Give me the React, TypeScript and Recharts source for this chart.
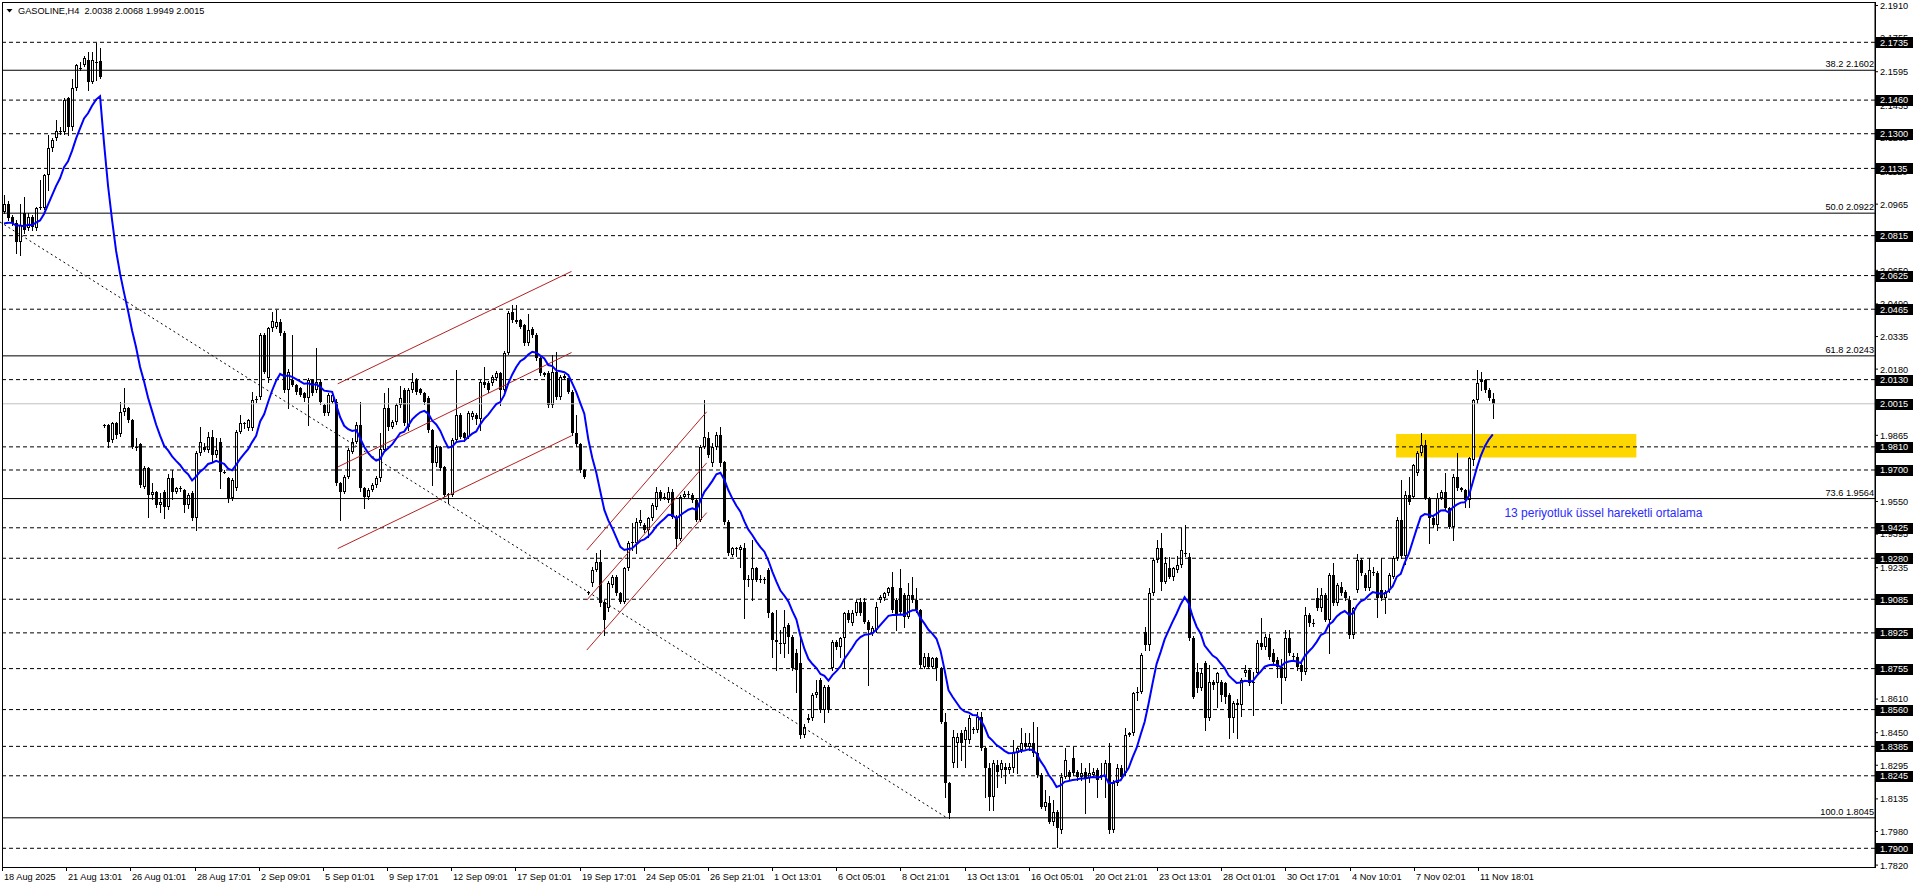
import {
  ComposedChart,
  Bar,
  Line,
  XAxis,
  YAxis,
  ReferenceLine,
  ReferenceArea,
} from 'recharts';

const symbolName = 'GASOLINE,H4';

// H4 candles, 18 Aug 2025 -> 11 Nov 2025
const opens = [
  2.0929, 2.0968, 2.0905, 2.0873, 2.0786, 2.0921, 2.0850, 2.0905, 2.0850, 2.0945,
  2.0945, 2.1103, 2.1230, 2.1278, 2.1309, 2.1309, 2.1468, 2.1333, 2.1516, 2.1611,
  2.1627, 2.1650, 2.1547, 2.1640, 2.1645, 1.9914, 1.9914, 1.9842, 1.9922, 1.9869,
  1.9977, 1.9993, 1.9938, 1.9811, 1.9822, 1.9621, 1.9708, 1.9581, 1.9594, 1.9533,
  1.9594, 1.9525, 1.9660, 1.9597, 1.9613, 1.9605, 1.9533, 1.9589, 1.9470, 1.9779,
  1.9811, 1.9795, 1.9858, 1.9771, 1.9835, 1.9692, 1.9660, 1.9565, 1.9613, 1.9882,
  1.9922, 1.9898, 1.9898, 2.0033, 2.0048, 2.0342, 2.0136, 2.0374, 2.0382, 2.0406,
  2.0350, 2.0080, 2.0128, 2.0104, 2.0088, 2.0064, 2.0041, 2.0128, 2.0080, 2.0120,
  2.0009, 1.9969, 2.0025, 2.0025, 1.9636, 1.9597, 1.9668, 1.9787, 1.9835, 1.9914,
  1.9613, 1.9573, 1.9605, 1.9628, 1.9660, 1.9795, 1.9993, 1.9906, 1.9929, 2.0009,
  2.0080, 1.9906, 2.0080, 2.0128, 2.0083, 2.0064, 2.0041, 1.9890, 1.9731, 1.9811,
  1.9715, 1.9581, 1.9581, 1.9842, 1.9961, 1.9874, 1.9858, 1.9953, 1.9961, 1.9945,
  2.0120, 2.0115, 2.0112, 2.0136, 2.0160, 2.0080, 2.0255, 2.0453, 2.0413, 2.0413,
  2.0389, 2.0302, 2.0369, 2.0342, 2.0231, 2.0160, 2.0160, 2.0009, 2.0167, 2.0048,
  2.0147, 2.0136, 2.0072, 1.9874, 1.9823, 1.9700, 1.9121, 1.9160, 1.9224, 1.9263,
  1.9073, 1.9041, 1.9152, 1.9192, 1.9113, 1.9073, 1.9232, 1.9359, 1.9351, 1.9446,
  1.9438, 1.9414, 1.9470, 1.9525, 1.9596, 1.9573, 1.9557, 1.9596, 1.9478, 1.9374,
  1.9573, 1.9581, 1.9581, 1.9557, 1.9462, 1.9811, 1.9850, 1.9731, 1.9811, 1.9866,
  1.9738, 1.9454, 1.9295, 1.9327, 1.9319, 1.9327, 1.9176, 1.9176, 1.9232, 1.9180,
  1.9176, 1.9224, 1.9018, 1.8883, 1.8875, 1.8870, 1.8962, 1.8907, 1.8827, 1.8780,
  1.8439, 1.8510, 1.8518, 1.8629, 1.8701, 1.8558, 1.8669, 1.8756, 1.8883, 1.8859,
  1.8899, 1.9018, 1.8970, 1.9018, 1.9073, 1.9073, 1.8978, 1.8923, 1.8938, 1.9081,
  1.9089, 1.9113, 1.9145, 1.9081, 1.9137, 1.9105, 1.9002, 1.9105, 1.9081, 1.9033,
  1.8764, 1.8812, 1.8764, 1.8804, 1.8756, 1.8502, 1.8209, 1.8304, 1.8399, 1.8447,
  1.8415, 1.8415, 1.8466, 1.8463, 1.8526, 1.8376, 1.8280, 1.8146, 1.8296, 1.8272,
  1.8288, 1.8272, 1.8280, 1.8352, 1.8368, 1.8399, 1.8383, 1.8399, 1.8352, 1.8249,
  1.8098, 1.8114, 1.8026, 1.8074, 1.7987, 1.8241, 1.8264, 1.8328, 1.8264, 1.8241,
  1.8264, 1.8233, 1.8249, 1.8272, 1.8241, 1.8241, 1.8304, 1.7987, 1.8209, 1.8280,
  1.8257, 1.8439, 1.8447, 1.8637, 1.8645, 1.8930, 1.8867, 1.9113, 1.9271, 1.9327,
  1.9169, 1.9232, 1.9192, 1.9224, 1.9248, 1.9303, 1.9287, 1.8900, 1.8740, 1.8661,
  1.8780, 1.8518, 1.8693, 1.8685, 1.8693, 1.8685, 1.8629, 1.8518, 1.8590, 1.8582,
  1.8732, 1.8748, 1.8693, 1.8732, 1.8875, 1.8859, 1.8900, 1.8827, 1.8796, 1.8764,
  1.8708, 1.8899, 1.8812, 1.8812, 1.8772, 1.8740, 1.9010, 1.8970, 1.9089, 1.9041,
  1.9105, 1.8986, 1.9200, 1.9065, 1.9145, 1.9121, 1.9081, 1.8915, 1.9129, 1.9271,
  1.9200, 1.9137, 1.9216, 1.9208, 1.9129, 1.9089, 1.9129, 1.9192, 1.9279, 1.9462,
  1.9290, 1.9581, 1.9573, 1.9684, 1.9779, 1.9819, 1.9565, 1.9470, 1.9438, 1.9565,
  1.9597, 1.9517, 1.9430, 1.9668, 1.9612, 1.9605, 1.9557, 1.9747, 2.0033, 2.0128,
  2.0128, 2.0080, 2.0038,
];

const highs = [
  2.1008, 2.0980, 2.0913, 2.0890, 2.0968, 2.1000, 2.0921, 2.0913, 2.0953, 2.1080,
  2.1110, 2.1294, 2.1280, 2.1365, 2.1330, 2.1470, 2.1475, 2.1560, 2.1630, 2.1640,
  2.1670, 2.1690, 2.1690, 2.1730, 2.1707, 1.9918, 1.9918, 1.9930, 1.9930, 2.0025,
  2.0088, 2.0000, 1.9945, 1.9850, 1.9830, 1.9720, 1.9715, 1.9640, 1.9600, 1.9590,
  1.9605, 1.9680, 1.9700, 1.9620, 1.9625, 1.9610, 1.9590, 1.9600, 1.9790, 1.9906,
  1.9830, 1.9880, 1.9890, 1.9850, 1.9850, 1.9700, 1.9668, 1.9660, 1.9890, 1.9962,
  1.9930, 1.9945, 2.0072, 2.0050, 2.0350, 2.0350, 2.0380, 2.0453, 2.0460, 2.0420,
  2.0360, 2.0180, 2.0342, 2.0110, 2.0095, 2.0070, 2.0140, 2.0135, 2.0279, 2.0130,
  2.0015, 2.0065, 2.0072, 2.0040, 1.9645, 1.9675, 1.9805, 1.9850, 1.9930, 2.0025,
  1.9620, 1.9612, 1.9640, 1.9670, 1.9874, 2.0064, 2.0088, 1.9940, 2.0020, 2.0100,
  2.0088, 2.0090, 2.0160, 2.0140, 2.0090, 2.0070, 2.0050, 1.9895, 1.9820, 1.9815,
  1.9720, 1.9590, 1.9850, 2.0175, 1.9970, 1.9880, 1.9980, 1.9980, 1.9970, 2.0130,
  2.0191, 2.0125, 2.0150, 2.0170, 2.0165, 2.0265, 2.0455, 2.0485, 2.0485, 2.0420,
  2.0395, 2.0440, 2.0380, 2.0350, 2.0240, 2.0165, 2.0170, 2.0247, 2.0263, 2.0150,
  2.0155, 2.0140, 2.0080, 1.9960, 1.9830, 1.9705, 1.9125, 1.9240, 1.9303, 1.9319,
  1.9080, 1.9170, 1.9200, 1.9200, 1.9120, 1.9240, 1.9360, 1.9446, 1.9470, 1.9509,
  1.9450, 1.9478, 1.9545, 1.9620, 1.9605, 1.9590, 1.9620, 1.9610, 1.9485, 1.9580,
  1.9600, 1.9600, 1.9590, 1.9565, 1.9820, 2.0033, 1.9880, 1.9830, 1.9880, 1.9905,
  1.9745, 1.9460, 1.9335, 1.9335, 1.9345, 1.9351, 1.9200, 1.9367, 1.9240, 1.9200,
  1.9190, 1.9232, 1.9025, 1.9033, 1.8938, 1.9033, 1.8970, 1.8915, 1.8850, 1.8907,
  1.8490, 1.8540, 1.8637, 1.8701, 1.8710, 1.8677, 1.8677, 1.8890, 1.8890, 1.8907,
  1.9025, 1.9033, 1.9033, 1.9081, 1.9089, 1.9089, 1.8986, 1.8960, 1.9073, 1.9105,
  1.9120, 1.9145, 1.9216, 1.9089, 1.9230, 1.9113, 1.9161, 1.9192, 1.9137, 1.9040,
  1.8827, 1.8827, 1.8812, 1.8812, 1.8764, 1.8542, 1.8217, 1.8463, 1.8447, 1.8463,
  1.8479, 1.8534, 1.8479, 1.8550, 1.8550, 1.8383, 1.8304, 1.8320, 1.8320, 1.8320,
  1.8304, 1.8304, 1.8415, 1.8383, 1.8471, 1.8447, 1.8447, 1.8502, 1.8479, 1.8257,
  1.8177, 1.8150, 1.8130, 1.8082, 1.8257, 1.8376, 1.8272, 1.8383, 1.8272, 1.8304,
  1.8280, 1.8304, 1.8280, 1.8280, 1.8304, 1.8320, 1.8399, 1.8225, 1.8300, 1.8296,
  1.8471, 1.8455, 1.8645, 1.8669, 1.8827, 1.8954, 1.9137, 1.9280, 1.9367, 1.9398,
  1.9287, 1.9287, 1.9240, 1.9290, 1.9422, 1.9438, 1.9303, 1.8910, 1.8780, 1.8760,
  1.8790, 1.8772, 1.8700, 1.8740, 1.8700, 1.8690, 1.8640, 1.8600, 1.8610, 1.8708,
  1.8772, 1.8760, 1.8740, 1.8890, 1.8994, 1.8920, 1.8920, 1.8850, 1.8810, 1.8800,
  1.8938, 1.8938, 1.8830, 1.8830, 1.8780, 1.9049, 1.9018, 1.8990, 1.9137, 1.9137,
  1.9113, 1.9210, 1.9256, 1.9160, 1.9169, 1.9130, 1.9100, 1.9050, 1.9300, 1.9280,
  1.9210, 1.9279, 1.9240, 1.9220, 1.9280, 1.9130, 1.9210, 1.9290, 1.9478, 1.9652,
  1.9600, 1.9668, 1.9730, 1.9790, 1.9877, 1.9842, 1.9570, 1.9480, 1.9589, 1.9605,
  1.9684, 1.9525, 1.9680, 1.9779, 1.9620, 1.9610, 1.9760, 2.0040, 2.0175, 2.0167,
  2.0135, 2.0088, 2.0068,
];

const lows = [
  2.0921, 2.0890, 2.0865, 2.0731, 2.0723, 2.0830, 2.0840, 2.0842, 2.0842, 2.0940,
  2.0940, 2.1032, 2.1220, 2.1270, 2.1300, 2.1300, 2.1294, 2.1320, 2.1510, 2.1605,
  2.1620, 2.1508, 2.1540, 2.1555, 2.1563, 1.9906, 1.9811, 1.9835, 1.9850, 1.9860,
  1.9960, 1.9930, 1.9803, 1.9795, 1.9620, 1.9615, 1.9478, 1.9560, 1.9525, 1.9501,
  1.9470, 1.9515, 1.9560, 1.9590, 1.9600, 1.9501, 1.9520, 1.9460, 1.9414, 1.9770,
  1.9790, 1.9785, 1.9740, 1.9760, 1.9613, 1.9685, 1.9550, 1.9555, 1.9605, 1.9875,
  1.9900, 1.9890, 1.9890, 2.0025, 2.0040, 2.0160, 2.0120, 2.0360, 2.0375, 2.0340,
  2.0070, 1.9993, 2.0100, 2.0060, 2.0050, 2.0030, 1.9914, 2.0055, 2.0070, 2.0015,
  1.9960, 1.9960, 2.0020, 1.9630, 1.9462, 1.9590, 1.9660, 1.9780, 1.9830, 1.9600,
  1.9520, 1.9560, 1.9598, 1.9620, 1.9650, 1.9790, 1.9890, 1.9900, 1.9920, 2.0000,
  1.9915, 1.9890, 2.0070, 2.0060, 2.0060, 2.0015, 1.9880, 1.9628, 1.9720, 1.9700,
  1.9575, 1.9541, 1.9575, 1.9835, 1.9850, 1.9840, 1.9850, 1.9945, 1.9920, 1.9890,
  2.0095, 2.0070, 2.0105, 2.0130, 2.0009, 2.0075, 2.0250, 2.0405, 2.0400, 2.0375,
  2.0295, 2.0295, 2.0335, 2.0225, 2.0150, 2.0145, 2.0000, 2.0000, 2.0040, 2.0040,
  2.0135, 2.0065, 1.9865, 1.9815, 1.9692, 1.9660, 1.9108, 1.9150, 1.9220, 1.9055,
  1.8914, 1.9030, 1.9145, 1.9105, 1.9065, 1.9065, 1.9225, 1.9319, 1.9303, 1.9440,
  1.9405, 1.9380, 1.9460, 1.9515, 1.9555, 1.9560, 1.9550, 1.9470, 1.9330, 1.9365,
  1.9565, 1.9570, 1.9550, 1.9455, 1.9455, 1.9805, 1.9760, 1.9720, 1.9800, 1.9720,
  1.9445, 1.9295, 1.9290, 1.9290, 1.9240, 1.8994, 1.9150, 1.9081, 1.9170, 1.9165,
  1.9161, 1.9002, 1.8812, 1.8748, 1.8827, 1.8812, 1.8827, 1.8748, 1.8645, 1.8423,
  1.8431, 1.8502, 1.8510, 1.8620, 1.8550, 1.8502, 1.8550, 1.8748, 1.8850, 1.8812,
  1.8764, 1.8978, 1.8962, 1.9010, 1.9010, 1.8970, 1.8677, 1.8915, 1.8930, 1.9073,
  1.9081, 1.9105, 1.9025, 1.8938, 1.9018, 1.8954, 1.8995, 1.9073, 1.9025, 1.8764,
  1.8756, 1.8756, 1.8756, 1.8701, 1.8494, 1.8146, 1.8045, 1.8288, 1.8288, 1.8320,
  1.8288, 1.8399, 1.8447, 1.8455, 1.8368, 1.8146, 1.8082, 1.8082, 1.8193, 1.8241,
  1.8209, 1.8257, 1.8264, 1.8257, 1.8360, 1.8375, 1.8368, 1.8340, 1.8241, 1.8090,
  1.8082, 1.8019, 1.8011, 1.7908, 1.7971, 1.8233, 1.8225, 1.8249, 1.8225, 1.8225,
  1.8066, 1.8217, 1.8241, 1.8146, 1.8230, 1.8146, 1.7971, 1.7979, 1.8200, 1.8233,
  1.8249, 1.8435, 1.8440, 1.8605, 1.8637, 1.8843, 1.8843, 1.9105, 1.9263, 1.9130,
  1.9160, 1.9184, 1.9176, 1.9215, 1.9240, 1.9290, 1.8890, 1.8613, 1.8645, 1.8653,
  1.8463, 1.8510, 1.8660, 1.8570, 1.8600, 1.8590, 1.8423, 1.8455, 1.8423, 1.8530,
  1.8720, 1.8677, 1.8534, 1.8724, 1.8850, 1.8850, 1.8800, 1.8780, 1.8716, 1.8590,
  1.8700, 1.8820, 1.8800, 1.8750, 1.8700, 1.8730, 1.8960, 1.8960, 1.9034, 1.9030,
  1.8980, 1.8830, 1.9057, 1.9057, 1.9105, 1.9080, 1.8899, 1.8899, 1.9120, 1.9200,
  1.9130, 1.9130, 1.9200, 1.9002, 1.9081, 1.9018, 1.9120, 1.9185, 1.9271, 1.9280,
  1.9255, 1.9540, 1.9565, 1.9675, 1.9770, 1.9560, 1.9351, 1.9430, 1.9414, 1.9560,
  1.9510, 1.9422, 1.9367, 1.9605, 1.9600, 1.9525, 1.9525, 1.9723, 2.0017, 2.0080,
  2.0072, 2.0033, 1.9949,
];

const closes = [
  2.0968, 2.0897, 2.0873, 2.0786, 2.0865, 2.0842, 2.0905, 2.0857, 2.0945, 2.0953,
  2.1103, 2.1230, 2.1270, 2.1313, 2.1313, 2.1460, 2.1333, 2.1516, 2.1627, 2.1615,
  2.1658, 2.1547, 2.1650, 2.1636, 2.1571, 1.9910, 1.9835, 1.9922, 1.9866, 1.9977,
  1.9993, 1.9938, 1.9811, 1.9803, 1.9628, 1.9708, 1.9581, 1.9597, 1.9533, 1.9549,
  1.9525, 1.9660, 1.9597, 1.9613, 1.9608, 1.9533, 1.9581, 1.9470, 1.9779, 1.9835,
  1.9795, 1.9858, 1.9771, 1.9795, 1.9692, 1.9690, 1.9565, 1.9652, 1.9882, 1.9922,
  1.9918, 1.9938, 2.0033, 2.0040, 2.0342, 2.0168, 2.0374, 2.0409, 2.0406, 2.0350,
  2.0080, 2.0168, 2.0104, 2.0072, 2.0057, 2.0041, 2.0128, 2.0064, 2.0117, 2.0025,
  1.9969, 2.0057, 2.0057, 1.9636, 1.9597, 1.9668, 1.9795, 1.9835, 1.9914, 1.9613,
  1.9573, 1.9605, 1.9628, 1.9660, 1.9798, 1.9993, 1.9906, 1.9929, 2.0009, 2.0041,
  1.9922, 2.0080, 2.0120, 2.0072, 2.0064, 2.0025, 1.9890, 1.9731, 1.9811, 1.9708,
  1.9581, 1.9585, 1.9842, 1.9961, 1.9858, 1.9850, 1.9969, 1.9969, 1.9945, 2.0120,
  2.0104, 2.0080, 2.0144, 2.0160, 2.0080, 2.0255, 2.0445, 2.0413, 2.0405, 2.0381,
  2.0302, 2.0366, 2.0342, 2.0231, 2.0160, 2.0152, 2.0009, 2.0167, 2.0048, 2.0144,
  2.0140, 2.0072, 1.9874, 1.9823, 1.9700, 1.9668, 1.9113, 1.9224, 1.9263, 1.9065,
  1.8986, 1.9160, 1.9192, 1.9113, 1.9073, 1.9232, 1.9351, 1.9351, 1.9454, 1.9462,
  1.9414, 1.9470, 1.9533, 1.9596, 1.9565, 1.9570, 1.9596, 1.9478, 1.9374, 1.9573,
  1.9585, 1.9585, 1.9557, 1.9462, 1.9811, 1.9858, 1.9771, 1.9811, 1.9866, 1.9731,
  1.9454, 1.9303, 1.9327, 1.9325, 1.9335, 1.9176, 1.9180, 1.9232, 1.9176, 1.9176,
  1.9180, 1.9018, 1.8891, 1.8891, 1.8870, 1.8954, 1.8907, 1.8756, 1.8748, 1.8439,
  1.8479, 1.8518, 1.8629, 1.8645, 1.8558, 1.8669, 1.8558, 1.8883, 1.8859, 1.8899,
  1.9018, 1.8986, 1.9018, 1.9073, 1.9018, 1.8978, 1.8938, 1.8946, 1.9049, 1.9097,
  1.9113, 1.9137, 1.9033, 1.9010, 1.9025, 1.9002, 1.9105, 1.9081, 1.9033, 1.8772,
  1.8812, 1.8764, 1.8804, 1.8756, 1.8502, 1.8209, 1.8066, 1.8431, 1.8431, 1.8399,
  1.8463, 1.8518, 1.8463, 1.8526, 1.8376, 1.8280, 1.8146, 1.8304, 1.8264, 1.8304,
  1.8272, 1.8288, 1.8360, 1.8376, 1.8399, 1.8383, 1.8399, 1.8352, 1.8249, 1.8098,
  1.8122, 1.8026, 1.8074, 1.7995, 1.8241, 1.8320, 1.8241, 1.8257, 1.8241, 1.8257,
  1.8233, 1.8257, 1.8264, 1.8225, 1.8249, 1.8304, 1.7987, 1.8209, 1.8280, 1.8241,
  1.8439, 1.8447, 1.8637, 1.8645, 1.8819, 1.8867, 1.9113, 1.9271, 1.9327, 1.9169,
  1.9256, 1.9192, 1.9232, 1.9248, 1.9319, 1.9300, 1.8900, 1.8621, 1.8661, 1.8732,
  1.8518, 1.8693, 1.8677, 1.8732, 1.8629, 1.8621, 1.8518, 1.8590, 1.8582, 1.8701,
  1.8748, 1.8685, 1.8690, 1.8875, 1.8860, 1.8907, 1.8812, 1.8788, 1.8764, 1.8708,
  1.8899, 1.8827, 1.8815, 1.8764, 1.8740, 1.9010, 1.8970, 1.8973, 1.9041, 1.9105,
  1.8986, 1.9200, 1.9065, 1.9153, 1.9113, 1.9089, 1.8915, 1.9041, 1.9271, 1.9208,
  1.9137, 1.9224, 1.9208, 1.9089, 1.9089, 1.9121, 1.9200, 1.9279, 1.9462, 1.9290,
  1.9581, 1.9549, 1.9723, 1.9779, 1.9819, 1.9565, 1.9470, 1.9438, 1.9565, 1.9597,
  1.9517, 1.9430, 1.9668, 1.9612, 1.9605, 1.9557, 1.9755, 2.0033, 2.0112, 2.0120,
  2.0080, 2.0041, 2.0015,
];

const dateLabels = [
  '18 Aug 2025', '21 Aug 13:01', '26 Aug 01:01', '28 Aug 17:01', '2 Sep 09:01',
  '5 Sep 01:01', '9 Sep 17:01', '12 Sep 09:01', '17 Sep 01:01', '19 Sep 17:01',
  '24 Sep 05:01', '26 Sep 21:01', '1 Oct 13:01', '6 Oct 05:01', '8 Oct 21:01',
  '13 Oct 13:01', '16 Oct 05:01', '20 Oct 21:01', '23 Oct 13:01', '28 Oct 01:01',
  '30 Oct 17:01', '4 Nov 10:01', '7 Nov 02:01', '11 Nov 18:01',
];
const dateStep = 16;

const priceTicks = [
  2.1910, 2.1755, 2.1595, 2.1435, 2.1280, 2.1120, 2.0965, 2.0805, 2.0650, 2.0490,
  2.0335, 2.0180, 2.0020, 1.9865, 1.9710, 1.9550, 1.9395, 1.9235, 1.9080, 1.8765,
  1.8610, 1.8450, 1.8295, 1.8135, 1.7980, 1.7820,
];

// horizontal support / resistance lines (dashed)
const levelLines = [
  2.1735, 2.1460, 2.1300, 2.1135, 2.0815, 2.0625, 2.0465, 2.0130, 1.9810, 1.9700,
  1.9425, 1.9280, 1.9085, 1.8925, 1.8755, 1.8560, 1.8385, 1.8245, 1.7900,
];

const fiboPcts = ['38.2', '50.0', '61.8', '73.6', '100.0'];
const fiboPrices = [2.1602, 2.0922, 2.0243, 1.9564, 1.8045];

const lastPrice = 2.0015;

const emaPeriod = 13;
const emaSeed = 2.0857;
const emaNote = '13 periyotluk üssel hareketli ortalama';
const emaNoteAt = { x: 374.6, y: 1.9495 };

const zone = { x1: 347.6, x2: 407.5, y1: 1.9759, y2: 1.9871 };

// [x1, y1, x2, y2] in candle index / price
const channelLines = [
  [83.7, 2.0110, 142.0, 2.0645],
  [83.7, 1.9714, 142.0, 2.0259],
  [83.7, 1.9326, 142.0, 1.9863],
  [145.8, 1.9319, 175.7, 1.9977],
  [145.8, 1.9081, 175.7, 1.9734],
  [145.8, 1.8843, 175.7, 1.9497],
];
const fiboDiagonal = [-0.5, 2.0880, 235.6, 1.8045];

const totalSlots = 468;
const priceDomain = [1.7811, 2.1922];

const chartW = 1916;
const chartH = 888;
const xAxisH = 21;
const axisY = chartH - xAxisH;

const font = "'Liberation Sans', Arial, sans-serif";
const fmt = (v: number) => v.toFixed(4);

const emaK = 2 / (emaPeriod + 1);
const emaValues: number[] = [];
closes.reduce((prev, c) => {
  const e = prev + emaK * (c - prev);
  emaValues.push(e);
  return e;
}, emaSeed);

const chartData = Array.from({ length: totalSlots }, (_, i) =>
  i < closes.length
    ? { i, o: opens[i], h: highs[i], l: lows[i], c: closes[i], ema: emaValues[i] }
    : { i }
);

const boxedPrices = new Set([...levelLines, lastPrice]);

function Candle(props: any) {
  const { x, y, width, height, payload } = props;
  if (!payload || payload.h == null || !isFinite(y)) return <g />;
  const top = Math.min(y, y + height);
  const span = Math.abs(height);
  const range = payload.h - payload.l;
  const toY = (p: number) => (range > 0 ? top + ((payload.h - p) / range) * span : top);
  const cx = Math.floor(x + width / 2);
  const bTop = Math.round(toY(Math.max(payload.o, payload.c)));
  const bBot = Math.round(toY(Math.min(payload.o, payload.c)));
  const up = payload.c >= payload.o;
  return (
    <g shapeRendering="crispEdges">
      <line x1={cx + 0.5} x2={cx + 0.5} y1={Math.round(top)} y2={Math.round(top + span) + 1} stroke="#000" />
      {bBot - bTop < 2 ? (
        <rect x={cx - 1} y={bTop} width={3} height={1} fill="#000" />
      ) : up ? (
        <rect x={cx - 0.5} y={bTop + 0.5} width={2} height={bBot - bTop - 1} fill="#fff" stroke="#000" />
      ) : (
        <rect x={cx - 1} y={bTop} width={3} height={bBot - bTop} fill="#000" />
      )}
    </g>
  );
}

const PriceTick = ({ x, y, payload }: any) => {
  const v = payload.value as number;
  if (boxedPrices.has(v)) {
    return (
      <g>
        <rect x={x - 4} y={Math.round(y) - 5} width={37} height={11} fill="#000" />
        <text x={x} y={y + 3.4} fill="#fff" fontSize={9.2} fontFamily={font}>{fmt(v)}</text>
      </g>
    );
  }
  return <text x={x} y={y + 3.4} fill="#000" fontSize={9.2} fontFamily={font}>{fmt(v)}</text>;
};

const DateTick = ({ x, payload }: any) => {
  const label = dateLabels[Math.round(payload.value / dateStep)];
  const px = Math.round(x);
  return (
    <g>
      <line x1={px + 0.5} x2={px + 0.5} y1={axisY} y2={axisY + 4} stroke="#000" shapeRendering="crispEdges" />
      <text x={px + 2} y={axisY + 13} fill="#000" fontSize={9.2} fontFamily={font}>{label}</text>
    </g>
  );
};

const FiboLabel = ({ viewBox, text }: any) => (
  <text x={viewBox.x + viewBox.width - 1} y={viewBox.y - 3} textAnchor="end" fill="#000" fontSize={9.2} fontFamily={font}>
    {text}
  </text>
);

const NoteLabel = ({ viewBox }: any) => (
  <text x={viewBox.x} y={viewBox.y + 4.3} fill="#2a2aff" fontSize={12} fontFamily={font}>
    {emaNote}
  </text>
);

export default function App() {
  const last = closes.length - 1;
  const title = `${symbolName}  ${fmt(opens[last])} ${fmt(highs[last])} ${fmt(lows[last])} ${fmt(closes[last])}`;

  return (
    <div style={{ position: 'absolute', left: 0, top: 0, width: chartW, height: chartH, background: '#fff' }}>
      <ComposedChart width={chartW} height={chartH} data={chartData} margin={{ top: 3, right: 0, bottom: 0, left: 2 }}>
        <XAxis xAxisId="c" dataKey="i" type="category" hide />
        <XAxis
          xAxisId="n"
          type="number"
          domain={[-0.5, totalSlots - 0.5]}
          allowDataOverflow
          ticks={dateLabels.map((_, k) => k * dateStep)}
          interval={0}
          tickSize={0}
          tickMargin={0}
          tickLine={false}
          axisLine={{ stroke: '#000' }}
          tick={DateTick}
          height={xAxisH}
        />
        <YAxis
          orientation="right"
          type="number"
          domain={priceDomain}
          allowDataOverflow
          ticks={[...priceTicks, ...levelLines, lastPrice]}
          interval={0}
          tickSize={3}
          tickMargin={2}
          tickLine={{ stroke: '#000' }}
          axisLine={{ stroke: '#000' }}
          tick={PriceTick}
          width={41}
        />

        <ReferenceArea
          xAxisId="n"
          x1={zone.x1}
          x2={zone.x2}
          y1={zone.y1}
          y2={zone.y2}
          fill="#FFD700"
          fillOpacity={1}
          stroke="none"
        />

        {levelLines.map((p) => (
          <ReferenceLine key={`lvl-${p}`} xAxisId="n" y={p} stroke="#000" strokeDasharray="4 3" />
        ))}
        {fiboPrices.map((p, k) => (
          <ReferenceLine
            key={`fib-${p}`}
            xAxisId="n"
            y={p}
            stroke="#000"
            label={<FiboLabel text={`${fiboPcts[k]} ${fmt(p)}`} />}
          />
        ))}
        <ReferenceLine xAxisId="n" y={lastPrice} stroke="#c0c0c0" />

        <ReferenceLine
          xAxisId="n"
          segment={[{ x: fiboDiagonal[0], y: fiboDiagonal[1] }, { x: fiboDiagonal[2], y: fiboDiagonal[3] }]}
          stroke="#000"
          strokeDasharray="2 3"
          ifOverflow="visible"
        />
        {channelLines.map((s, k) => (
          <ReferenceLine
            key={`ch-${k}`}
            xAxisId="n"
            segment={[{ x: s[0], y: s[1] }, { x: s[2], y: s[3] }]}
            stroke="#b22222"
            ifOverflow="visible"
          />
        ))}

        <Bar
          xAxisId="c"
          dataKey={(d: any) => (d.h == null ? null : [d.l, d.h])}
          barSize={3}
          shape={(p: any) => <Candle {...p} />}
          isAnimationActive={false}
        />
        <Line
          xAxisId="c"
          dataKey="ema"
          type="linear"
          stroke="#0000ff"
          strokeWidth={2}
          dot={false}
          activeDot={false}
          isAnimationActive={false}
        />

        <ReferenceLine
          xAxisId="n"
          segment={[{ x: emaNoteAt.x, y: emaNoteAt.y }, { x: emaNoteAt.x + 50, y: emaNoteAt.y }]}
          stroke="none"
          strokeOpacity={0}
          label={<NoteLabel />}
        />
      </ComposedChart>

      <svg width={chartW} height={chartH} style={{ position: 'absolute', left: 0, top: 0, pointerEvents: 'none' }}>
        <rect x={2.5} y={2.5} width={1873} height={axisY - 2.5} fill="none" stroke="#000" shapeRendering="crispEdges" />
        <polygon points="6.5,9 12.5,9 9.5,12.5" fill="#000" />
        <text x={18} y={14} fill="#000" fontSize={9.2} fontFamily={font} style={{ whiteSpace: 'pre' }}>
          {title}
        </text>
      </svg>
    </div>
  );
}
